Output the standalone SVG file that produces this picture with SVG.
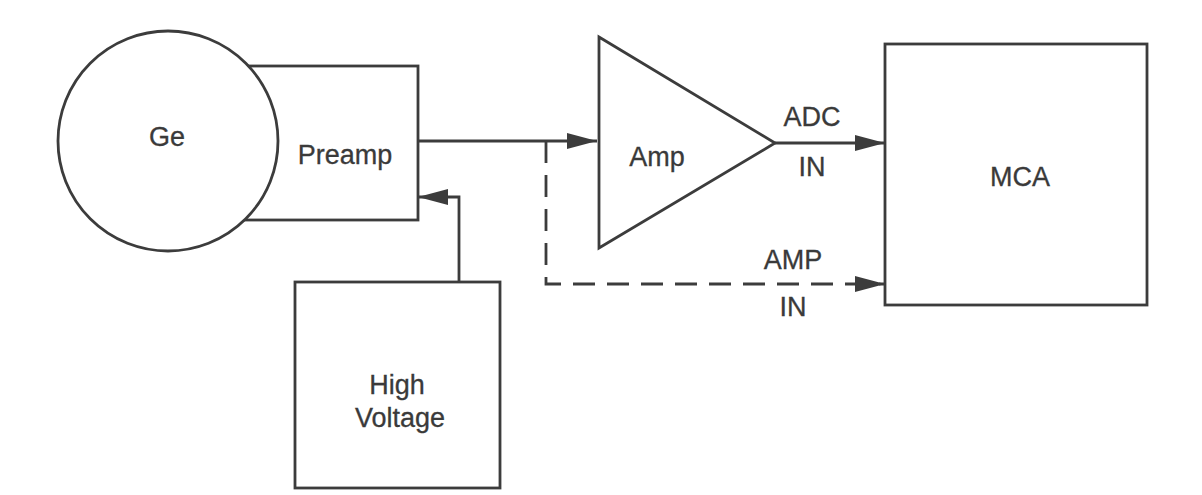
<svg xmlns="http://www.w3.org/2000/svg" width="1202" height="495" viewBox="0 0 1202 495">
<style>
.s{fill:#fff;stroke:#3c3c3c;stroke-width:2.8}
.l{fill:none;stroke:#3c3c3c;stroke-width:2.8}
.d{stroke-dasharray:22,12}
text{font-family:"Liberation Sans",Arial,sans-serif;font-size:27px;fill:#3a3a3a;stroke:#3a3a3a;stroke-width:0.3;text-anchor:middle;dominant-baseline:central}
</style>
<defs>
<marker id="ah" markerUnits="userSpaceOnUse" markerWidth="32" markerHeight="20" refX="30" refY="10" orient="auto">
<path d="M0,2 L30,10 L0,18 Z" fill="#3c3c3c"/>
</marker>
</defs>
<rect width="1202" height="495" fill="#fff"/>
<g id="preamp"><rect class="s" x="200" y="66" width="218" height="154"/><text x="345" y="155">Preamp</text></g>
<g id="ge"><circle class="s" cx="168" cy="141" r="110"/><text x="167" y="137">Ge</text></g>
<g id="amp"><path class="s" d="M599,37 L775,143 L599,248 Z"/><text x="657" y="157">Amp</text></g>
<g id="mca"><rect class="s" x="885" y="44" width="262" height="261"/><text x="1020" y="177">MCA</text></g>
<g id="hv"><rect class="s" x="295" y="282" width="205" height="206"/><text x="397" y="385">High</text><text x="400" y="418">Voltage</text></g>
<g id="connectors">
<path class="l" d="M418,141 L597,141" marker-end="url(#ah)"/>
<path class="l" d="M775,143 L885,143" marker-end="url(#ah)"/>
<path class="l d" d="M546,141 L546,284 L885,284" marker-end="url(#ah)"/>
<path class="l" d="M459,282 L459,197 L418,197" marker-end="url(#ah)"/>
<text x="812" y="117">ADC</text><text x="812" y="167">IN</text>
<text x="793" y="260">AMP</text><text x="793" y="307">IN</text>
</g>
</svg>
